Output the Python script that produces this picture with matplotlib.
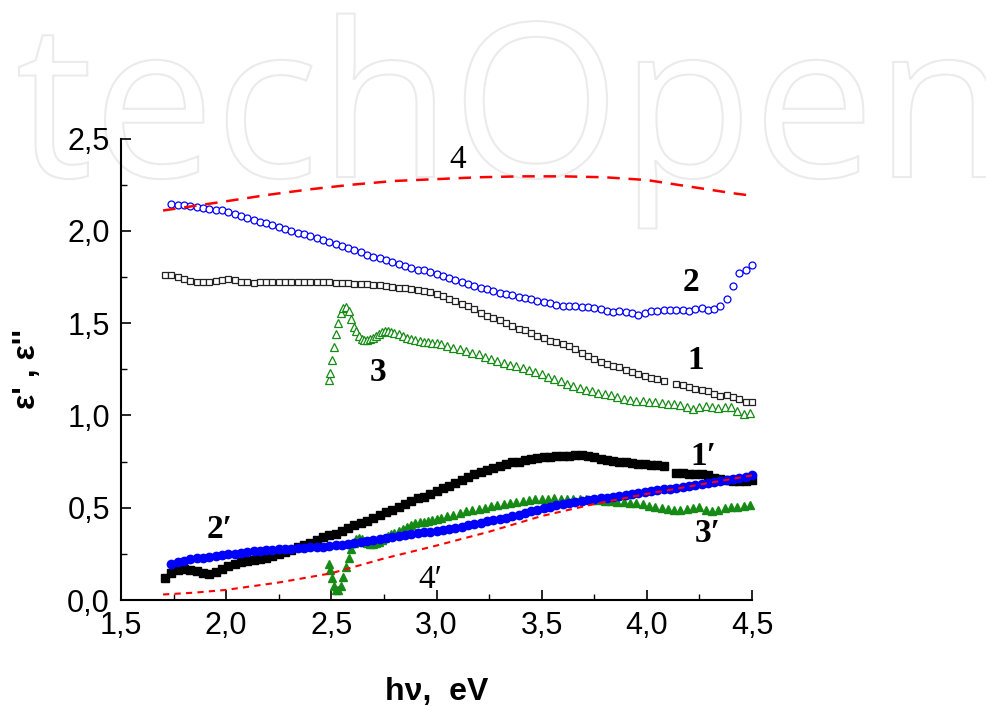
import numpy as np
import matplotlib
matplotlib.use("Agg")
import matplotlib.pyplot as plt
import matplotlib.transforms as mtransforms
from matplotlib.textpath import TextPath
from matplotlib.patches import PathPatch
from matplotlib.font_manager import FontProperties

nan = np.nan

# photon energy grid (eV) shared by curves 1, 1', 2, 2'
energy = [1.71, 1.74, 1.77, 1.80, 1.83, 1.86, 1.89, 1.92, 1.95, 1.98,
          2.01, 2.04, 2.07, 2.10, 2.13, 2.16, 2.19, 2.22, 2.25, 2.28,
          2.31, 2.34, 2.37, 2.40, 2.43, 2.46, 2.49, 2.52, 2.55, 2.58,
          2.61, 2.64, 2.67, 2.70, 2.73, 2.76, 2.79, 2.82, 2.85, 2.88,
          2.91, 2.94, 2.97, 3.00, 3.03, 3.06, 3.09, 3.12, 3.15, 3.18,
          3.21, 3.24, 3.27, 3.30, 3.33, 3.36, 3.39, 3.42, 3.45, 3.48,
          3.51, 3.54, 3.57, 3.60, 3.63, 3.66, 3.69, 3.72, 3.75, 3.78,
          3.81, 3.84, 3.87, 3.90, 3.93, 3.96, 3.99, 4.02, 4.05, 4.08,
          4.11, 4.14, 4.17, 4.20, 4.23, 4.26, 4.29, 4.32, 4.35, 4.38,
          4.41, 4.44, 4.47, 4.50]

# 1 : eps' (open squares)
eps1_re = [1.76, 1.76, 1.75, 1.74, 1.73, 1.72, 1.72, 1.725, 1.73, 1.735,
           1.74, 1.735, 1.725, 1.72, 1.715, 1.72, 1.725, 1.72, 1.72, 1.72,
           1.72, 1.72, 1.72, 1.72, 1.72, 1.72, 1.72, 1.715, 1.715, 1.715,
           1.71, 1.71, 1.71, 1.705, 1.705, 1.70, 1.695, 1.69, 1.69, 1.685,
           1.68, 1.675, 1.67, 1.66, 1.645, 1.63, 1.62, 1.605, 1.59, 1.575,
           1.555, 1.54, 1.53, 1.515, 1.50, 1.485, 1.47, 1.46, 1.445, 1.43,
           1.42, 1.405, 1.395, 1.385, 1.375, 1.36, 1.34, 1.32, 1.305, 1.29,
           1.28, 1.27, 1.26, 1.245, 1.235, 1.225, 1.215, 1.205, 1.195, 1.185,
           nan, 1.17, 1.165, 1.155, 1.145, 1.14, 1.13, 1.115, 1.105, 1.11,
           1.10, 1.09, 1.075, 1.07]

# 1' : eps'' (filled squares)
eps1_im = [0.12, 0.145, 0.16, 0.17, 0.165, 0.155, 0.145, 0.14, 0.15, 0.17,
           0.185, 0.195, 0.205, 0.21, 0.215, 0.22, 0.23, 0.24, 0.25, 0.26,
           0.27, 0.285, 0.30, 0.31, 0.325, 0.34, 0.35, 0.36, 0.375, 0.39,
           0.405, 0.415, 0.43, 0.445, 0.46, 0.475, 0.49, 0.505, 0.52, 0.535,
           0.55, 0.56, 0.575, 0.59, 0.605, 0.62, 0.635, 0.65, 0.665, 0.68,
           0.695, 0.705, 0.715, 0.725, 0.735, 0.745, 0.75, 0.76, 0.765, 0.77,
           0.775, 0.775, 0.78, 0.78, 0.78, 0.785, 0.785, 0.78, 0.775, 0.765,
           0.76, 0.755, 0.75, 0.745, 0.74, 0.735, 0.735, 0.73, 0.73, 0.725,
           nan, 0.69, 0.69, 0.685, 0.68, 0.68, 0.675, 0.66, 0.655, 0.65,
           0.645, 0.645, 0.645, 0.65]

# 2 : eps' (open circles), starts at energy[1]
eps2_re = [2.145, 2.14, 2.14, 2.135, 2.13, 2.125, 2.12, 2.115, 2.11,
           2.10, 2.09, 2.08, 2.07, 2.06, 2.05, 2.04, 2.03, 2.02, 2.01,
           2.00, 1.99, 1.98, 1.97, 1.96, 1.95, 1.94, 1.93, 1.915, 1.905,
           1.895, 1.885, 1.87, 1.86, 1.85, 1.84, 1.83, 1.82, 1.81, 1.80,
           1.79, 1.785, 1.775, 1.765, 1.755, 1.745, 1.735, 1.725, 1.71, 1.70,
           1.69, 1.685, 1.675, 1.665, 1.66, 1.65, 1.64, 1.635, 1.63, 1.62,
           1.615, 1.61, 1.60, 1.595, 1.595, 1.59, 1.585, 1.585, 1.58, 1.575,
           1.565, 1.56, 1.565, 1.56, 1.555, 1.545, 1.555, 1.565, 1.565, 1.57,
           1.57, 1.57, 1.57, 1.565, 1.575, 1.58, 1.57, 1.575, 1.59, 1.63,
           1.70, 1.77, 1.79, 1.815]

# 2' : eps'' (filled circles), starts at energy[1]
eps2_im = [0.195, 0.205, 0.21, 0.22, 0.225, 0.23, 0.235, 0.24, 0.245,
           0.25, 0.252, 0.256, 0.26, 0.264, 0.268, 0.271, 0.273, 0.275, 0.277,
           0.279, 0.281, 0.283, 0.285, 0.287, 0.289, 0.292, 0.296, 0.30, 0.305,
           0.31, 0.314, 0.319, 0.324, 0.33, 0.336, 0.342, 0.347, 0.352, 0.357,
           0.362, 0.367, 0.371, 0.375, 0.38, 0.386, 0.392, 0.398, 0.405, 0.412,
           0.419, 0.426, 0.433, 0.44, 0.447, 0.455, 0.463, 0.472, 0.48, 0.489,
           0.497, 0.505, 0.513, 0.52, 0.527, 0.533, 0.538, 0.542, 0.546, 0.55,
           0.554, 0.558, 0.563, 0.568, 0.574, 0.58, 0.584, 0.589, 0.594, 0.599,
           0.603, 0.608, 0.612, 0.617, 0.621, 0.626, 0.632, 0.638, 0.643, 0.648,
           0.654, 0.66, 0.668, 0.677]

# 3, 3' have their own (denser near the edge) energy grid
energy3 = [2.490, 2.495, 2.502, 2.512, 2.522, 2.533, 2.545, 2.557, 2.570, 2.582,
           2.594, 2.606, 2.618, 2.631, 2.644, 2.657, 2.670, 2.684, 2.698, 2.712,
           2.726, 2.740, 2.755, 2.770, 2.785, 2.80, 2.82, 2.84, 2.86, 2.88,
           2.90, 2.92, 2.94, 2.96, 2.98, 3.00, 3.02, 3.05, 3.08, 3.11,
           3.14, 3.17, 3.20, 3.23, 3.26, 3.29, 3.32, 3.35, 3.38, 3.41,
           3.44, 3.47, 3.50, 3.53, 3.56, 3.59, 3.62, 3.65, 3.68, 3.71,
           3.74, 3.77, 3.80, 3.83, 3.86, 3.89, 3.92, 3.95, 3.98, 4.01,
           4.04, 4.07, 4.10, 4.13, 4.16, 4.19, 4.22, 4.25, 4.28, 4.31,
           4.34, 4.37, 4.40, 4.43, 4.46, 4.49]

eps3_re = [1.19, 1.23, 1.30, 1.37, 1.44, 1.50, 1.555, 1.58, 1.585, 1.565,
           1.52, 1.48, 1.455, 1.43, 1.415, 1.41, 1.41, 1.415, 1.42, 1.43,
           1.44, 1.45, 1.455, 1.455, 1.45, 1.445, 1.44, 1.43, 1.42, 1.415,
           1.41, 1.405, 1.40, 1.395, 1.39, 1.39, 1.385, 1.375, 1.365, 1.36,
           1.35, 1.34, 1.33, 1.315, 1.305, 1.295, 1.285, 1.275, 1.265, 1.255,
           1.245, 1.235, 1.225, 1.21, 1.195, 1.185, 1.17, 1.16, 1.15, 1.14,
           1.13, 1.12, 1.115, 1.11, 1.10, 1.09, 1.085, 1.08, 1.08, 1.075,
           1.07, 1.065, 1.06, 1.06, 1.055, 1.045, 1.035, 1.045, 1.05, 1.045,
           1.04, 1.045, 1.045, 1.025, 1.01, 1.015]

eps3_im = [0.195, 0.16, 0.12, 0.075, 0.055, 0.055, 0.075, 0.125, 0.18, 0.23,
           0.275, 0.31, 0.33, 0.335, 0.33, 0.32, 0.31, 0.305, 0.305, 0.31,
           0.315, 0.325, 0.335, 0.345, 0.355, 0.365, 0.375, 0.385, 0.395, 0.405,
           0.415, 0.42, 0.425, 0.43, 0.435, 0.44, 0.445, 0.455, 0.46, 0.47,
           0.48, 0.49, 0.495, 0.50, 0.51, 0.515, 0.52, 0.525, 0.53, 0.535,
           0.54, 0.545, 0.545, 0.545, 0.55, 0.545, 0.545, 0.545, 0.545, 0.545,
           0.54, 0.54, 0.535, 0.535, 0.53, 0.53, 0.525, 0.525, 0.52, 0.51,
           0.505, 0.50, 0.495, 0.49, 0.49, 0.495, 0.50, 0.505, 0.49, 0.48,
           0.49, 0.50, 0.505, 0.505, 0.51, 0.515]

# 4, 4' : calculated curves (dashed)
energy4 = [1.70, 1.85, 2.00, 2.20, 2.40, 2.60, 2.80, 3.00, 3.20, 3.40,
           3.60, 3.80, 4.00, 4.20, 4.40, 4.50]
eps4_re = [2.11, 2.135, 2.16, 2.195, 2.225, 2.25, 2.27, 2.28, 2.29, 2.295,
           2.295, 2.29, 2.275, 2.24, 2.205, 2.19]
energy4p = [1.70, 1.85, 2.00, 2.25, 2.50, 2.75, 3.00, 3.25, 3.50, 3.75,
            4.00, 4.25, 4.50]
eps4_im = [0.03, 0.04, 0.055, 0.095, 0.145, 0.225, 0.295, 0.37, 0.455, 0.52,
           0.575, 0.625, 0.675]

x_ticks = [1.5, 2.0, 2.5, 3.0, 3.5, 4.0, 4.5]
x_tick_labels = ["1,5", "2,0", "2,5", "3,0", "3,5", "4,0", "4,5"]
y_ticks = [0.0, 0.5, 1.0, 1.5, 2.0, 2.5]
y_tick_labels = ["0,0", "0,5", "1,0", "1,5", "2,0", "2,5"]

# curve labels: text, x, y, weight
curve_labels = [("2", 4.21, 1.72, "bold"), ("1", 4.23, 1.30, "bold"),
                ("3", 2.72, 1.235, "bold"), ("1\u2032", 4.27, 0.78, "bold"),
                ("2\u2032", 1.97, 0.38, "bold"), ("3\u2032", 4.29, 0.36, "bold"),
                ("4", 3.10, 2.385, "normal"), ("4\u2032", 2.97, 0.11, "normal")]

blue = "#0000ff"
green = "#158a15"

fig = plt.figure(figsize=(9.87, 7.07), dpi=100)
ax = fig.add_axes([0.1226, 0.1513, 0.6393, 0.6528])
ax.patch.set_visible(False)

# faint watermark behind the plot
tp = TextPath((0, 0), "techOpen", size=215, prop=FontProperties(family="Open Sans"))
ext = tp.get_extents()
wm_tr = (mtransforms.Affine2D().translate(-ext.x0, 0)
         .scale((990 - 19) / ext.width, 1).translate(19, 707 - 177))
wm = PathPatch(wm_tr.transform_path(tp), facecolor="none", edgecolor="#ebebeb",
               lw=1.5, transform=mtransforms.IdentityTransform(), zorder=-5)
fig.add_artist(wm)

ax.plot(energy, eps1_re, ls="none", marker="s", ms=5, mfc="white", mec="#222222",
        mew=0.9, clip_on=False)
ax.plot(energy[1:], eps2_re, ls="none", marker="o", ms=5, mfc="white", mec=blue,
        mew=0.9, clip_on=False)
ax.plot(energy3, eps3_re, ls="none", marker="^", ms=5.5, mfc="white", mec=green,
        mew=0.9, clip_on=False)
ax.plot(energy, eps1_im, ls="none", marker="s", ms=5.5, color="black", clip_on=False)
ax.plot(energy3, eps3_im, ls="none", marker="^", ms=6, color=green, clip_on=False)
ax.plot(energy[1:], eps2_im, ls="none", marker="o", ms=6, color=blue, clip_on=False)
ax.plot(energy4, eps4_re, color="#ff0000", lw=1.8, dashes=(5, 3.5))
ax.plot(energy4p, eps4_im, color="#ff0000", lw=1.5, dashes=(3, 2.5))

for txt, x, y, w in curve_labels:
    ax.text(x, y, txt, ha="center", va="center", fontsize=24, fontweight=w,
            family="Liberation Serif")

ax.set_xlim(1.5, 4.5)
ax.set_ylim(0, 2.5)
ax.set_xticks(x_ticks)
ax.set_xticklabels(x_tick_labels)
ax.set_yticks(y_ticks)
ax.set_yticklabels(y_tick_labels)
ax.set_xticks([1.75, 2.25, 2.75, 3.25, 3.75, 4.25], minor=True)
ax.set_yticks([0.25, 0.75, 1.25, 1.75, 2.25], minor=True)
ax.tick_params(which="major", direction="in", length=7, width=1.2, labelsize=22, pad=8)
ax.tick_params(which="minor", direction="in", length=4, width=1.0)
for lab in ax.get_xticklabels() + ax.get_yticklabels():
    lab.set_family("Liberation Sans")

for s in ["top", "right"]:
    ax.spines[s].set_visible(False)
for s in ["left", "bottom"]:
    ax.spines[s].set_linewidth(1.5)

ax.set_xlabel("h\u03bd,  eV", fontsize=23, fontweight="bold", family="Liberation Sans")
ax.xaxis.set_label_coords(0.5, -0.166)
ax.set_ylabel("\u03b5' , \u03b5''", fontsize=23, fontweight="bold", family="Liberation Sans")
ax.yaxis.set_label_coords(-0.125, 0.5)

fig.savefig("out.png", dpi=100)
